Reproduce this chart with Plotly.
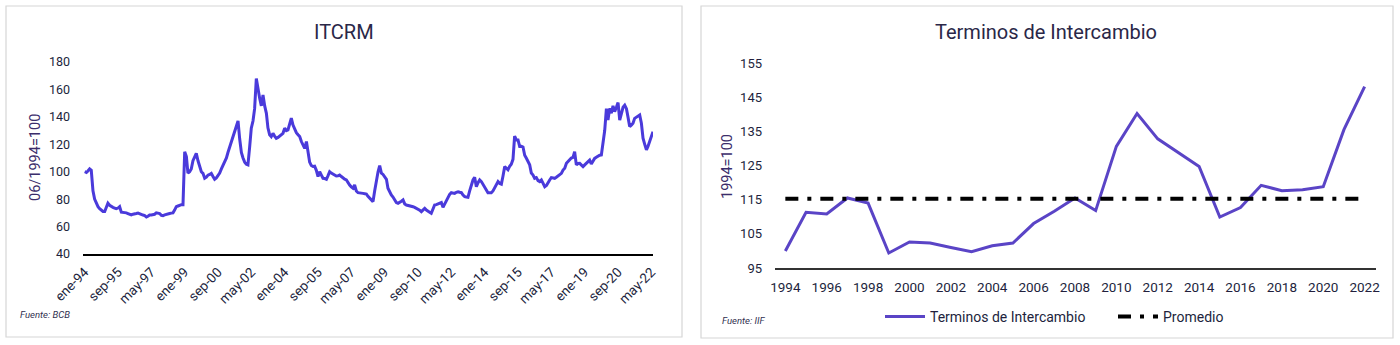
import pandas as pd
import plotly.graph_objects as go

# ---------------- data ----------------
# ITCRM monthly index (06/1994=100), Jan-1994 .. Jun-2022
itcrm_start = "1994-01-01"
itcrm_values = [
    # 1994
    100, 99.5, 100.5, 102, 101, 86, 80, 77, 74.5, 73, 72, 71,
    # 1995
    71, 74, 77, 75.5, 74.5, 74, 73.5, 73, 73.5, 74.5, 70.5, 70.5,
    # 1996
    70, 70, 69.5, 69, 68.5, 69, 69.5, 69.5, 69.8, 69.5, 68.8, 68.4,
    # 1997
    68, 67, 67.5, 68.4, 68.5, 68.7, 69, 70, 69.8, 69.5, 68.2, 68,
    # 1998
    68.5, 69, 69.3, 69.5, 69.8, 70, 72, 74.5, 75, 75.7, 76, 76,
    # 1999
    114.6, 111, 99, 100, 102, 108, 111, 113.4, 108, 104, 100, 98.8,
    # 2000
    95.2, 96, 97.5, 98, 98.8, 96.5, 94.5, 95.5, 96.9, 99, 102, 104.5,
    # 2001
    107, 110, 114, 118, 122, 125, 129, 134, 137, 124, 114, 110,
    # 2002
    107, 105.5, 105, 118, 131.7, 137, 146, 168, 160, 153.6, 148, 156,
    # 2003
    148, 142.6, 132, 127, 125.6, 128, 126, 124.4, 125, 126, 127, 128,
    # 2004
    131.7, 130, 130.5, 135, 139, 134, 131, 128.5, 127, 125.6, 122, 119.5,
    # 2005
    117, 122, 114.6, 107, 104.5, 103.8, 104, 101, 96.4, 100, 97.5, 95.2,
    # 2006
    95, 94.5, 97, 100, 99, 98.4, 97.5, 96.9, 97, 97.6, 96.5, 95.2,
    # 2007
    94.5, 94, 92, 90.3, 89, 88, 90.3, 86, 84.7, 84.7, 84.5, 84.2,
    # 2008
    84, 83.7, 82, 80.6, 79.5, 78.2, 86, 95, 100, 104.5, 99, 98,
    # 2009
    96, 94.5, 88, 85, 83, 81.5, 79.5, 77.5, 77, 77.5, 78.5, 79.4,
    # 2010
    76.5, 75.7, 75.5, 75, 74.8, 74.5, 74, 73.5, 72.6, 72, 70.9, 72,
    # 2011
    73.3, 72, 71, 70.5, 69.7, 73, 75.7, 76, 76.4, 77, 77.5, 74,
    # 2012
    76.5, 79.4, 82, 83.5, 84.7, 84.5, 84.2, 85, 85.4, 85, 84.7, 83,
    # 2013
    81.8, 81.5, 81.3, 86, 90.3, 94, 95.9, 89.1, 92, 94, 92.8, 91,
    # 2014
    89.1, 86.5, 84.7, 84.7, 84.7, 86, 87.9, 90, 92.8, 91.5, 91, 96.9,
    # 2015
    103.7, 102.5, 101.4, 104, 105.5, 109, 126, 123.2, 123.2, 118.4, 118.5, 118,
    # 2016
    112, 109.8, 107, 105, 99, 97.6, 95.2, 95.7, 93.5, 92.8, 94, 91,
    # 2017
    89.1, 90, 91.5, 94, 95.7, 95.5, 95.2, 96, 96.9, 98, 98.8, 101.2,
    # 2018
    102.5, 106.1, 107.5, 109, 110, 110.5, 114.6, 105, 106, 106.1, 104.5, 103.7,
    # 2019
    105, 106.1, 107, 108.5, 105.6, 108, 109.7, 110.5, 111.5, 112, 112.2, 120.7,
    # 2020
    130, 146, 137.7, 146.2, 142.6, 148, 143.8, 147, 150.4, 137.7, 143.8, 147,
    # 2021
    148.5, 146, 140, 132.9, 134, 135.3, 138.9, 139.5, 140.2, 141.3, 135.3, 124.4,
    # 2022
    120, 115.9, 118.4, 122, 126.8, 129.2,
]
itcrm_tick_labels = [
    "ene-94", "sep-95", "may-97", "ene-99", "sep-00", "may-02", "ene-04",
    "sep-05", "may-07", "ene-09", "sep-10", "may-12", "ene-14", "sep-15",
    "may-17", "ene-19", "sep-20", "may-22",
]
itcrm_tick_step_months = 20

# Terminos de intercambio (1994=100), annual
tdi_years = list(range(1994, 2023))
tdi_values = [
    100.0, 111.3, 110.8, 115.5, 114.0, 99.4, 102.6, 102.3, 101.0, 99.8,
    101.5, 102.3, 108.0, 111.6, 115.5, 111.8, 130.6, 140.2, 132.8, 128.8,
    124.7, 109.9, 112.7, 119.2, 117.6, 117.9, 118.8, 135.5, 148.1,
]
tdi_promedio = [115.3] * len(tdi_years)

# ---------------- figure ----------------
W, H = 1400, 345
FONT = "Roboto, 'Open Sans', sans-serif"
TXT = "#221F3D"
PURPLE_L = "#4A3ADB"
PURPLE_R = "#5A44C6"
AXT = "#3B2D6B"


def px_x(p):
    return p / W


def px_y(p):
    return (H - p) / H


dates = pd.date_range(itcrm_start, periods=len(itcrm_values), freq="MS")
tick_dates = list(dates[::itcrm_tick_step_months])[: len(itcrm_tick_labels)]

fig = go.Figure()

fig.add_trace(go.Scatter(
    x=dates, y=itcrm_values, mode="lines", name="ITCRM",
    line=dict(color=PURPLE_L, width=3), showlegend=False,
    xaxis="x", yaxis="y",
))

fig.add_trace(go.Scatter(
    x=tdi_years, y=tdi_values, mode="lines", name="Terminos de Intercambio",
    line=dict(color=PURPLE_R, width=3),
    xaxis="x2", yaxis="y2",
))
fig.add_trace(go.Scatter(
    x=tdi_years, y=tdi_promedio, mode="lines", name="Promedio",
    line=dict(color="#000000", width=4, dash="13px,9px,4px,9px"),
    xaxis="x2", yaxis="y2",
))

fig.update_layout(
    width=W, height=H,
    margin=dict(l=0, r=0, t=0, b=0, pad=0, autoexpand=False),
    paper_bgcolor="white", plot_bgcolor="white",
    font=dict(family=FONT, color=TXT),
    xaxis=dict(
        domain=[px_x(83), px_x(653)],
        range=["1993-12-01", "2022-06-01"],
        tickmode="array", tickvals=tick_dates, ticktext=itcrm_tick_labels,
        tickangle=-45, tickfont=dict(size=13.5, color=TXT),
        showgrid=False, zeroline=False,
        showline=True, linecolor="#000000", linewidth=2,
        ticks="", ticklabelstandoff=3, automargin=False,
        anchor="y",
    ),
    yaxis=dict(
        domain=[px_y(254), px_y(62)],
        range=[40, 180], dtick=20, tick0=40,
        tickfont=dict(size=12.5, color=TXT),
        showgrid=False, zeroline=False, showline=False,
        ticks="", ticklabelstandoff=12, automargin=False,
        anchor="x",
    ),
    xaxis2=dict(
        domain=[px_x(775), px_x(1376)],
        range=[1993.5, 2022.55],
        tickmode="array", tickvals=list(range(1994, 2023, 2)),
        tickfont=dict(size=13.5, color=TXT),
        showgrid=False, zeroline=False,
        showline=True, linecolor="#333333", linewidth=1.5,
        ticks="", ticklabelstandoff=6, automargin=False,
        anchor="y2",
    ),
    yaxis2=dict(
        domain=[px_y(268), px_y(63)],
        range=[95, 155], dtick=10, tick0=95,
        tickfont=dict(size=13, color=TXT),
        showgrid=False, zeroline=False, showline=False,
        ticks="", ticklabelstandoff=12, automargin=False,
        anchor="x2",
    ),
    legend=dict(
        orientation="h", x=px_x(880), xanchor="left",
        y=px_y(317), yanchor="middle",
        font=dict(size=14, color=TXT), bgcolor="rgba(0,0,0,0)",
        itemwidth=40, tracegroupgap=0,
        entrywidth=178, entrywidthmode="pixels",
    ),
    shapes=[
        dict(type="rect", xref="paper", yref="paper",
             x0=px_x(6), x1=px_x(682), y0=px_y(337), y1=px_y(6),
             line=dict(color="#D6D6D6", width=1.2), fillcolor="rgba(0,0,0,0)"),
        dict(type="rect", xref="paper", yref="paper",
             x0=px_x(701), x1=px_x(1393), y0=px_y(338), y1=px_y(6),
             line=dict(color="#D6D6D6", width=1.2), fillcolor="rgba(0,0,0,0)"),
    ],
    annotations=[
        dict(text="ITCRM", x=px_x(344), y=px_y(32), xref="paper", yref="paper",
             xanchor="center", yanchor="middle", showarrow=False,
             font=dict(size=20, color="#2A2748")),
        dict(text="Terminos de Intercambio", x=px_x(1046), y=px_y(32),
             xref="paper", yref="paper", xanchor="center", yanchor="middle",
             showarrow=False, font=dict(size=20, color="#2A2748")),
        dict(text="06/1994=100", x=px_x(36), y=px_y(158), xref="paper",
             yref="paper", xanchor="center", yanchor="middle",
             textangle=-90, showarrow=False,
             font=dict(size=14.5, color=AXT)),
        dict(text="1994=100", x=px_x(727), y=px_y(166), xref="paper",
             yref="paper", xanchor="center", yanchor="middle",
             textangle=-90, showarrow=False,
             font=dict(size=14.5, color=AXT)),
        dict(text="<i>Fuente: BCB</i>", x=px_x(18), y=px_y(314), xref="paper",
             yref="paper", xanchor="left", yanchor="middle", showarrow=False,
             font=dict(size=9.5, color="#2F2F4F")),
        dict(text="<i>Fuente: IIF</i>", x=px_x(720), y=px_y(320), xref="paper",
             yref="paper", xanchor="left", yanchor="middle", showarrow=False,
             font=dict(size=9.5, color="#2F2F4F")),
    ],
)

fig.write_html("out.html")
